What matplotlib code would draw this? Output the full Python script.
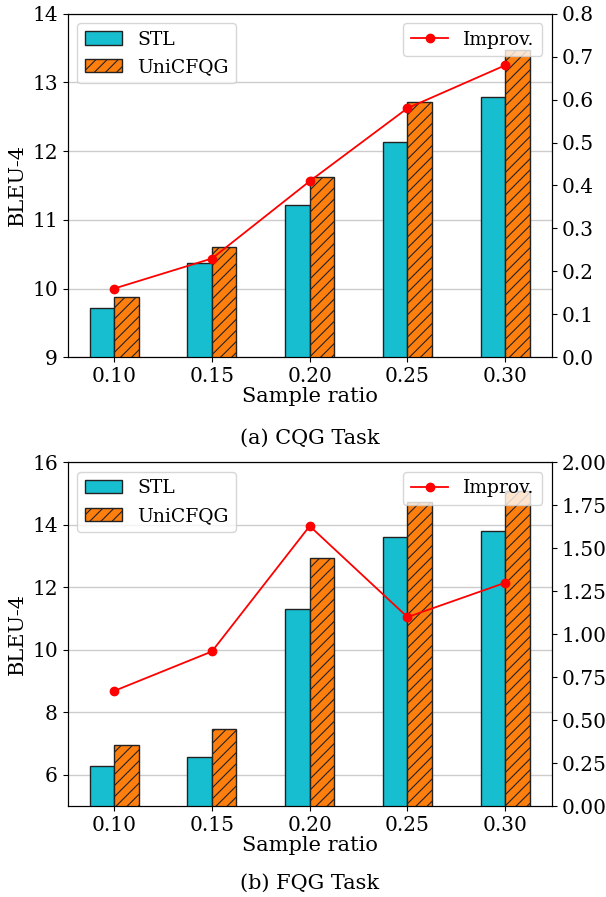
import numpy as np
import matplotlib
matplotlib.use('Agg')
import matplotlib.pyplot as plt

plt.rcParams['font.family'] = 'DejaVu Serif'
plt.rcParams['hatch.linewidth'] = 0.8

ratios = ['0.10', '0.15', '0.20', '0.25', '0.30']

# (a) CQG task
cqg_stl = [9.71, 10.37, 11.22, 12.13, 12.79]
cqg_uni = [9.87, 10.60, 11.63, 12.71, 13.47]
cqg_imp = [0.16, 0.23, 0.41, 0.58, 0.68]

# (b) FQG task
fqg_stl = [6.27, 6.58, 11.30, 13.62, 13.80]
fqg_uni = [6.94, 7.48, 12.93, 14.72, 15.09]
fqg_imp = [0.67, 0.90, 1.63, 1.10, 1.30]

fig = plt.figure(figsize=(6.06, 8.97), dpi=100)

def panel(rect, stl, uni, imp, ylim, yticks, y2lim, y2ticks, y2fmt):
    ax = fig.add_axes(rect)
    x = np.arange(len(ratios))
    w = 0.25
    ax.bar(x - w / 2, stl, w, color='#17becf', edgecolor='#222222', linewidth=1, label='STL')
    ax.bar(x + w / 2, uni, w, color='#ff7f0e', edgecolor='#222222', linewidth=1,
           hatch='///', label='UniCFQG')
    ax.set_ylim(*ylim)
    ax.set_yticks(yticks)
    ax.set_xticks(x)
    ax.set_xticklabels(ratios)
    ax.set_xlim(-0.475, len(ratios) - 1 + 0.475)
    ax.grid(axis='y', color='#cccccc', linewidth=1)
    ax.set_axisbelow(True)
    ax.tick_params(labelsize=14.5)
    ax.set_ylabel('BLEU-4', fontsize=15)
    ax.set_xlabel('Sample ratio', fontsize=15, labelpad=1)
    ax.legend(loc='upper left', fontsize=13.5)

    ax2 = ax.twinx()
    ax2.plot(x, imp, color='red', marker='o', markersize=6, linewidth=1.3, label='Improv.')
    ax2.set_ylim(*y2lim)
    ax2.set_yticks(y2ticks)
    ax2.set_yticklabels([y2fmt.format(v) for v in y2ticks])
    ax2.tick_params(labelsize=14.5)
    ax2.legend(loc='upper right', fontsize=13.5)
    return ax, ax2

panel([0.1117, 0.6017, 0.7987, 0.383], cqg_stl, cqg_uni, cqg_imp,
      (9, 14), np.arange(9, 15, 1), (0, 0.8), np.round(np.arange(0, 0.81, 0.1), 1),
      '{:.1f}')
panel([0.1117, 0.1014, 0.7987, 0.383], fqg_stl, fqg_uni, fqg_imp,
      (5, 16), np.arange(6, 17, 2), (0, 2.0), np.arange(0, 2.01, 0.25),
      '{:.2f}')

fig.text(0.511, 0.5112, '(a) CQG Task', ha='center', va='center', fontsize=15)
fig.text(0.511, 0.0150, '(b) FQG Task', ha='center', va='center', fontsize=15)

fig.savefig('out.png', dpi=100)
